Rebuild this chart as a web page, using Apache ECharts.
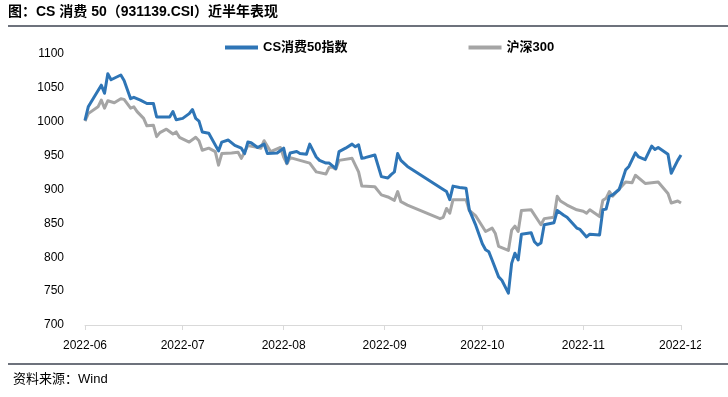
<!DOCTYPE html>
<html>
<head>
<meta charset="utf-8">
<script src="https://cdn.jsdelivr.net/npm/echarts@6/dist/echarts.min.js"></script>
<style>
  html, body { margin: 0; padding: 0; background: #fff; }
  #main { width: 728px; height: 397px; }
</style>
</head>
<body>
<div id="main"></div>
<script>
// CS消费50指数
const csDates = [
  '2022-06-01','2022-06-02','2022-06-06','2022-06-07','2022-06-08','2022-06-09','2022-06-12','2022-06-13',
  '2022-06-15','2022-06-16','2022-06-18','2022-06-20','2022-06-22','2022-06-23','2022-06-27','2022-06-28',
  '2022-06-29','2022-07-01','2022-07-03','2022-07-04','2022-07-05','2022-07-06','2022-07-07','2022-07-09',
  '2022-07-12','2022-07-13','2022-07-15','2022-07-17','2022-07-19','2022-07-20','2022-07-21','2022-07-22',
  '2022-07-24','2022-07-26','2022-07-27','2022-07-30','2022-08-01','2022-08-02','2022-08-03','2022-08-05',
  '2022-08-06','2022-08-08','2022-08-09','2022-08-11','2022-08-12','2022-08-14','2022-08-15','2022-08-16',
  '2022-08-17','2022-08-18','2022-08-20','2022-08-22','2022-08-23','2022-08-24','2022-08-25','2022-08-26',
  '2022-08-29','2022-08-31','2022-09-02','2022-09-03','2022-09-04','2022-09-05','2022-09-06','2022-09-08',
  '2022-09-19','2022-09-20','2022-09-21','2022-09-22','2022-09-24','2022-09-26','2022-09-27','2022-09-29',
  '2022-10-01','2022-10-02','2022-10-03','2022-10-04','2022-10-06','2022-10-07','2022-10-09','2022-10-10',
  '2022-10-11','2022-10-12','2022-10-13','2022-10-16','2022-10-17','2022-10-18','2022-10-19','2022-10-20',
  '2022-10-23','2022-10-24','2022-10-26','2022-10-27','2022-10-30','2022-10-31','2022-11-02','2022-11-03',
  '2022-11-06','2022-11-07','2022-11-08','2022-11-09','2022-11-10','2022-11-12','2022-11-13','2022-11-14',
  '2022-11-15','2022-11-17','2022-11-18','2022-11-20','2022-11-22','2022-11-23','2022-11-24','2022-11-27',
  '2022-11-28','2022-11-30','2022-12-01'
];
const csValues = [
  1002, 1022, 1054, 1042, 1071, 1062, 1069, 1061,
  1034, 1036, 1032, 1027, 1027, 1007, 1007, 1015,
  1003, 1005, 1012, 1018, 1005, 1001, 985, 983,
  957, 970, 973, 965, 961, 953, 970, 969,
  962, 967, 953, 954, 961, 939, 954, 956,
  953, 952, 967, 948, 943, 939, 939, 935,
  931, 956, 961, 967, 963, 966, 946, 947,
  951, 919, 917, 922, 926, 953, 943, 934,
  900, 897, 885, 905, 903, 902, 870, 847,
  820, 811, 808, 796, 771, 766, 747, 791,
  806, 796, 834, 836, 823, 818, 821, 848,
  851, 869, 862, 859, 843, 841, 830, 834,
  833, 870, 871, 890, 892, 900, 914, 929,
  934, 954, 948, 944, 964, 959, 962, 952,
  924, 943, 951
];

// 沪深300
const hsDates = [
  '2022-06-01','2022-06-02','2022-06-05','2022-06-06','2022-06-07','2022-06-08','2022-06-10','2022-06-12',
  '2022-06-13','2022-06-15','2022-06-16','2022-06-17','2022-06-19','2022-06-20','2022-06-22','2022-06-23',
  '2022-06-24','2022-06-26','2022-06-28','2022-06-29','2022-06-30','2022-07-03','2022-07-05','2022-07-06',
  '2022-07-07','2022-07-09','2022-07-11','2022-07-12','2022-07-13','2022-07-16','2022-07-18','2022-07-19',
  '2022-07-21','2022-07-23','2022-07-25','2022-07-26','2022-07-28','2022-07-31','2022-08-01','2022-08-02',
  '2022-08-03','2022-08-06','2022-08-09','2022-08-11','2022-08-14','2022-08-15','2022-08-16','2022-08-17',
  '2022-08-18','2022-08-22','2022-08-24','2022-08-25','2022-08-29','2022-08-31','2022-09-02','2022-09-04',
  '2022-09-05','2022-09-06','2022-09-08','2022-09-18','2022-09-19','2022-09-20','2022-09-21','2022-09-22',
  '2022-09-26','2022-09-27','2022-09-29','2022-10-02','2022-10-04','2022-10-05','2022-10-06','2022-10-09',
  '2022-10-10','2022-10-11','2022-10-12','2022-10-13','2022-10-16','2022-10-19','2022-10-20','2022-10-23',
  '2022-10-24','2022-10-25','2022-10-27','2022-10-30','2022-11-01','2022-11-02','2022-11-03','2022-11-06',
  '2022-11-07','2022-11-08','2022-11-09','2022-11-10','2022-11-14','2022-11-16','2022-11-17','2022-11-20',
  '2022-11-24','2022-11-27','2022-11-28','2022-11-30','2022-12-01'
];
const hsValues = [
  1001, 1012, 1022, 1032, 1020, 1031, 1028, 1034,
  1033, 1020, 1022, 1015, 1005, 994, 995, 978,
  984, 989, 982, 985, 977, 970, 977, 972,
  958, 961, 956, 936, 953, 954, 955, 946,
  965, 963, 961, 972, 956, 962, 948, 938,
  947, 943, 939, 926, 923, 933, 933, 930,
  943, 946, 926, 905, 904, 892, 889, 884,
  897, 882, 877, 857, 859, 872, 865, 885,
  885, 869, 861, 838, 843, 835, 816, 810,
  840, 846, 838, 869, 870, 848, 857, 859,
  890, 883, 877, 870, 868, 865, 870, 860,
  884, 887, 897, 890, 911, 910, 921, 909,
  911, 894, 880, 883, 880
];

const seriesNames = ['CS消费50指数', '沪深300'];
const yTicks = [700, 1100, 50]; // min, max, step
const xRange = ['2022-06-01', '2022-12-01'];

const fontLatin = "'Liberation Sans', 'Noto Sans CJK SC', sans-serif";

const chart = echarts.init(document.getElementById('main'), null, { renderer: 'canvas' });

const zip = (d, v) => d.map((x, i) => [x, v[i]]);

chart.setOption({
  animation: false,
  backgroundColor: '#fff',
  textStyle: { fontFamily: fontLatin },
  grid: { left: 85, right: 47, top: 54, bottom: 72 },
  legend: {
    data: seriesNames,
    left: 220,
    top: 36,
    icon: 'rect',
    itemWidth: 33,
    itemHeight: 4,
    itemGap: 121,
    textStyle: { fontSize: 13, fontWeight: 'bold', color: '#000', fontFamily: fontLatin }
  },
  xAxis: {
    type: 'time',
    min: xRange[0],
    max: xRange[1],
    splitLine: { show: false },
    axisLine: { lineStyle: { color: '#d9d9d9', width: 1 } },
    axisTick: { show: true, length: 5, lineStyle: { color: '#d9d9d9' } },
    axisLabel: {
      formatter: '{yyyy}-{MM}',
      fontSize: 12,
      color: '#000',
      margin: 15,
      showMinLabel: true,
      showMaxLabel: true,
      hideOverlap: false
    }
  },
  yAxis: {
    type: 'value',
    min: yTicks[0],
    max: yTicks[1],
    interval: yTicks[2],
    splitLine: { show: false },
    axisLine: { show: false },
    axisTick: { show: false },
    axisLabel: { fontSize: 12, color: '#000', margin: 21, formatter: v => String(v) }
  },
  series: [
    {
      name: seriesNames[0],
      type: 'line',
      data: zip(csDates, csValues),
      showSymbol: false,
      symbol: 'none',
      color: '#2e75b6',
      lineStyle: { width: 3, color: '#2e75b6', join: 'round' },
      z: 3
    },
    {
      name: seriesNames[1],
      type: 'line',
      data: zip(hsDates, hsValues),
      showSymbol: false,
      symbol: 'none',
      color: '#a5a5a5',
      lineStyle: { width: 3, color: '#a5a5a5', join: 'round' },
      z: 2
    }
  ],
  graphic: [
    {
      type: 'text',
      left: 8,
      top: 5,
      style: {
        text: '图：CS 消费 50（931139.CSI）近半年表现',
        fontSize: 14,
        fontWeight: 'bold',
        fontFamily: fontLatin,
        fill: '#000'
      }
    },
    {
      type: 'line',
      shape: { x1: 8, y1: 26, x2: 728, y2: 26 },
      style: { stroke: '#3d4350', lineWidth: 1.5 }
    },
    {
      type: 'line',
      shape: { x1: 8, y1: 364, x2: 728, y2: 364 },
      style: { stroke: '#3d4350', lineWidth: 1.5 }
    },
    {
      type: 'text',
      left: 13,
      top: 373,
      style: {
        text: '资料来源：Wind',
        fontSize: 13,
        fontFamily: fontLatin,
        fill: '#000'
      }
    },
    {
      // the source picture cuts the last month label at the frame edge
      type: 'rect',
      shape: { x: 701, y: 336, width: 27, height: 22 },
      style: { fill: '#fff' },
      z: 100
    }
  ]
});
</script>
</body>
</html>
